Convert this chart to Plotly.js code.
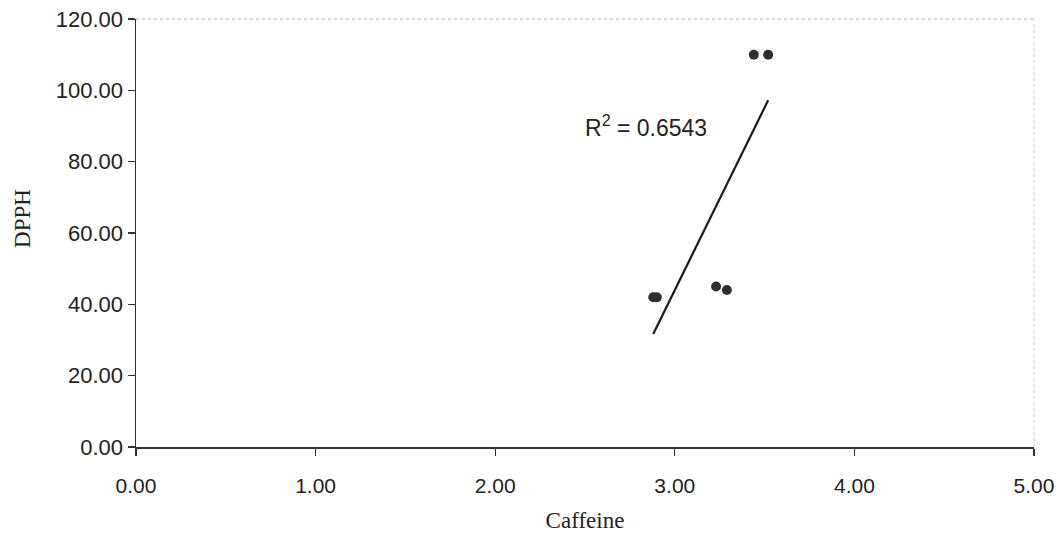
<!DOCTYPE html>
<html>
<head>
<meta charset="utf-8">
<script src="https://cdn.plot.ly/plotly-3.0.1.min.js"></script>
<style>html,body{margin:0;padding:0;background:#fff;}#chart{width:1061px;height:544px;}</style>
</head>
<body>
<div id="chart"></div>
<script>
// Data
var caffeine = [2.88, 2.90, 3.23, 3.29, 3.44, 3.52];
var dpph     = [42.0, 42.0, 45.0, 44.0, 110.0, 110.0];
var xTickVals = [0, 1, 2, 3, 4, 5];
var xTickText = ["0.00", "1.00", "2.00", "3.00", "4.00", "5.00"];
var yTickVals = [0, 20, 40, 60, 80, 100, 120];
var yTickText = ["0.00", "20.00", "40.00", "60.00", "80.00", "100.00", "120.00"];
var xTitle = "Caffeine";
var yTitle = "DPPH";
var rSquaredText = "R<sup>2</sup> = 0.6543";

// Linear trend line (least squares) spanning the data range
var n = caffeine.length;
var mx = caffeine.reduce(function(a,b){return a+b;},0)/n;
var my = dpph.reduce(function(a,b){return a+b;},0)/n;
var sxy = 0, sxx = 0;
for (var i = 0; i < n; i++) { sxy += (caffeine[i]-mx)*(dpph[i]-my); sxx += (caffeine[i]-mx)*(caffeine[i]-mx); }
var slope = sxy/sxx, icpt = my - slope*mx;
var xmin = Math.min.apply(null, caffeine), xmax = Math.max.apply(null, caffeine);
var trendX = [xmin, xmax];
var trendY = [icpt + slope*xmin, icpt + slope*xmax];

var traces = [
  {x: trendX, y: trendY, mode: 'lines', type: 'scatter',
   line: {color: '#1a1a1a', width: 2.2}, hoverinfo: 'skip'},
  {x: caffeine, y: dpph, mode: 'markers', type: 'scatter',
   marker: {color: '#2e2e2e', size: 10}}
];

var layout = {
  width: 1061, height: 544,
  margin: {l: 136, r: 27, t: 19, b: 97},
  paper_bgcolor: '#ffffff', plot_bgcolor: '#ffffff',
  showlegend: false,
  font: {family: 'Liberation Sans, Arial, sans-serif', color: '#222'},
  xaxis: {
    range: [0, 5], tickvals: xTickVals, ticktext: xTickText,
    showgrid: false, zeroline: false,
    showline: true, linecolor: '#333', linewidth: 1.5,
    ticks: 'outside', ticklen: 7, tickcolor: '#333', tickwidth: 1.2,
    ticklabelstandoff: 12,
    tickfont: {size: 21, family: 'Liberation Sans, Arial, sans-serif', color: '#222'},
    title: {text: xTitle, font: {size: 23, family: 'Liberation Serif, Times New Roman, serif', color: '#222'}, standoff: 16},
    automargin: false
  },
  yaxis: {
    range: [0, 120], tickvals: yTickVals, ticktext: yTickText,
    showgrid: false, zeroline: false,
    showline: true, linecolor: '#333', linewidth: 1.5,
    ticks: 'outside', ticklen: 7, tickcolor: '#333', tickwidth: 1.2,
    tickfont: {size: 22, family: 'Liberation Sans, Arial, sans-serif', color: '#222'},
    automargin: false
  },
  shapes: [
    {type: 'line', xref: 'paper', yref: 'paper', x0: 0, x1: 1, y0: 1, y1: 1,
     line: {color: '#b0b0b0', width: 1, dash: 'dot'}},
    {type: 'line', xref: 'paper', yref: 'paper', x0: 1, x1: 1, y0: 0, y1: 1,
     line: {color: '#d0d0d0', width: 1, dash: 'dot'}}
  ],
  annotations: [
    {x: 2.84, y: 90, xref: 'x', yref: 'y', text: rSquaredText, showarrow: false,
     xanchor: 'center', yanchor: 'middle',
     font: {size: 23, family: 'Liberation Sans, Arial, sans-serif', color: '#222'}},
    {x: 0, y: 0.533, xref: 'paper', yref: 'paper', xshift: -113, text: yTitle,
     textangle: -90, showarrow: false, xanchor: 'center', yanchor: 'middle',
     font: {size: 23, family: 'Liberation Serif, Times New Roman, serif', color: '#222'}}
  ]
};

Plotly.newPlot('chart', traces, layout, {displayModeBar: false, staticPlot: true});
</script>
</body>
</html>
